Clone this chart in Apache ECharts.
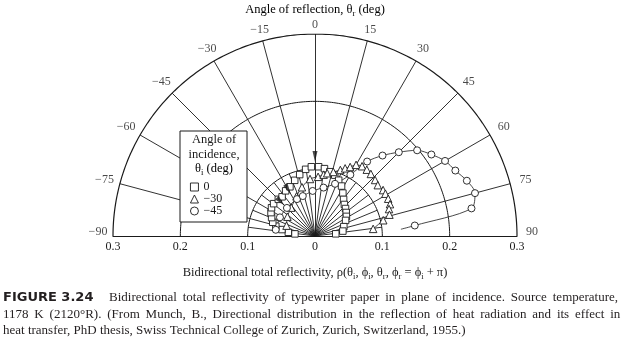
<!DOCTYPE html>
<html><head><meta charset="utf-8">
<script src="https://cdn.jsdelivr.net/npm/echarts@6/dist/echarts.min.js"></script>
<style>html,body{margin:0;padding:0;background:#fff}#c{width:624px;height:347px}</style>
</head><body><div id="c"></div>
<script>
// ---- data ----
const gridRadii = [0.1, 0.2, 0.3];
const angleTicks = [-90, -75, -60, -45, -30, -15, 0, 15, 30, 45, 60, 75, 90];
const angleTickLabels = ['\u221290','\u221275','\u221260','\u221245','\u221230','\u221215','0','15','30','45','60','75','90'];
const innerSpokeAngles = [-82.5,-67.5,-52.5,-37.5,-22.5,-7.5,7.5,22.5,37.5,52.5,67.5,82.5];
const seriesNames = ['0', '\u221230', '\u221245'];
const incidentAngles = [0, -30, -45];
const arrowRadius = [0.118, 0.080, 0.072];

const sqTheta = [-84,-82,-79,-76,-72,-67,-62,-57,-52,-45,-40,-33,-27,-20,-14,-8,-3,3,8,13,18,23,28,33,38,43,48,53,58,63,72,80,84];
const sqRho   = [0.030,0.040,0.050,0.060,0.066,0.070,0.074,0.077,0.078,0.077,0.076,0.080,0.082,0.088,0.094,0.100,0.103,0.103,0.101,0.098,0.095,0.090,0.084,0.076,0.069,0.064,0.061,0.058,0.055,0.051,0.045,0.042,0.031];

const triTheta = [-70,-55,-40,-25,-15,-5,3,8,11,16,21,24,27,30,34,38,42,47,51,56,59,63,67,70,74,77,83];
const triRho   = [0.045,0.050,0.055,0.065,0.075,0.085,0.088,0.092,0.095,0.099,0.105,0.110,0.115,0.122,0.125,0.125,0.124,0.122,0.120,0.122,0.122,0.122,0.121,0.117,0.115,0.104,0.087];

const cirTheta = [-81,-62,-45,-26,-17,-3,10,21,30,35,40,45,50,55,60,65,70,75,80,84];
const cirRho   = [0.059,0.059,0.059,0.061,0.062,0.067,0.073,0.083,0.105,0.135,0.156,0.176,0.198,0.211,0.223,0.230,0.240,0.246,0.236,0.149];
const cirCurveEnd = [85.5, 0.128];

// ---- helpers ----
const D = Math.PI / 180;
const xy = (t, r) => [r * Math.sin(t * D), r * Math.cos(t * D)];
const FONT = '"Liberation Serif", "DejaVu Serif", serif';
const INK = '#1a1a1a';
const TS = '\u2009'; // thin space used to justify caption lines

const series = [];
gridRadii.forEach((r, i) => {
  const pts = [];
  for (let a = -90; a <= 90; a += 1) pts.push(xy(a, r));
  series.push({type: 'line', data: pts, showSymbol: false, silent: true, z: 1,
    lineStyle: {color: INK, width: i === gridRadii.length - 1 ? 1.2 : 1}});
});
const spokes = [];
angleTicks.filter(a => Math.abs(a) < 90).forEach(a => spokes.push({coords: [xy(a, 0), xy(a, gridRadii[2])]}));
innerSpokeAngles.forEach(a => spokes.push({coords: [xy(a, 0), xy(a, gridRadii[0])]}));
series.push({type: 'lines', coordinateSystem: 'cartesian2d', data: spokes, silent: true, z: 1,
  lineStyle: {color: INK, width: 0.9, opacity: 1}});
series.push({type: 'scatter', symbolSize: 0, silent: true, z: 5,
  data: angleTicks.map((a, i) => {
    const s = Math.sin(a * D), c = Math.cos(a * D);
    const d = 4 + 11 * Math.abs(s) + 5 * Math.abs(c);
    return {value: xy(a, gridRadii[2]), label: {show: true, formatter: angleTickLabels[i],
      position: [s * d, -c * d - (Math.abs(a) === 90 ? 4 : 0)], align: 'center', verticalAlign: 'middle',
      fontFamily: FONT, fontSize: 12, color: INK}};
  })});
series.push({type: 'scatter', silent: true, z: 4,
  symbol: 'path://M0,0L10,0L5,22Z', symbolKeepAspect: false,
  data: incidentAngles.map((a, i) => ({value: xy(a, arrowRadius[i]), symbolRotate: -a})),
  symbolSize: [5, 11], itemStyle: {color: INK}});
const sets = [
  {name: seriesNames[0], sym: 'rect', size: 6.5, th: sqTheta, rh: sqRho, tail: null},
  {name: seriesNames[1], sym: 'triangle', size: 7.5, th: triTheta, rh: triRho, tail: null},
  {name: seriesNames[2], sym: 'circle', size: 7, th: cirTheta, rh: cirRho, tail: cirCurveEnd},
];
sets.forEach(s => {
  const pts = s.th.map((t, i) => xy(t, s.rh[i]));
  const curve = s.tail ? pts.concat([xy(s.tail[0], s.tail[1])]) : pts;
  series.push({type: 'line', data: curve, showSymbol: false, smooth: 0.3, silent: true, z: 2,
    lineStyle: {color: INK, width: 0.8}});
  series.push({type: 'scatter', name: s.name, data: pts, symbol: s.sym, symbolSize: s.size, z: 3,
    itemStyle: {color: '#fff', borderColor: INK, borderWidth: 0.9, opacity: 1}});
});

const sub = {fontSize: 8.5, fontFamily: FONT, color: INK, padding: [7, 0, 0, 0], lineHeight: 8};
const base = {fontSize: 12.5, fontFamily: FONT, color: INK, lineHeight: 14};
const justify = t => t.split(' ').join(' ' + TS);

const option = {
  animation: false,
  grid: {left: 113, top: 34, width: 404, height: 202},
  xAxis: {type: 'value', min: -0.3, max: 0.3, interval: 0.1,
    axisLine: {lineStyle: {color: INK, width: 1.2}}, axisTick: {show: false}, splitLine: {show: false},
    axisLabel: {margin: 5, fontFamily: FONT, fontSize: 12, color: INK,
      formatter: v => Math.abs(v) < 1e-9 ? '0' : Math.abs(v).toFixed(1)},
    name: '{a|Bidirectional total reflectivity, \u03c1(\u03b8}{s|i}{a|, \u03d5}{s|i}{a|, \u03b8}{s|r}{a|, \u03d5}{s|r}{a| = \u03d5}{s|i}{a| + \u03c0)}',
    nameLocation: 'middle', nameGap: 30,
    nameTextStyle: {rich: {a: base, s: sub}}},
  yAxis: {type: 'value', min: 0, max: 0.3, show: false},
  legend: {orient: 'vertical', left: 185, top: 176, itemWidth: 8, itemHeight: 8, itemGap: 0,
    data: seriesNames, itemStyle: {borderWidth: 0.9, borderColor: INK, color: '#fff'},
    textStyle: {fontFamily: FONT, fontSize: 12, color: INK}},
  graphic: [
    {type: 'rect', z: 3, shape: {x: 180, y: 131, width: 67, height: 91}, style: {fill: '#fff', stroke: INK, lineWidth: 1}},
    {type: 'text', z: 5, style: {x: 214, y: 140, text: 'Angle of', font: '12.5px ' + FONT, fill: INK, align: 'center', verticalAlign: 'middle'}},
    {type: 'text', z: 5, style: {x: 214, y: 155, text: 'incidence,', font: '12.5px ' + FONT, fill: INK, align: 'center', verticalAlign: 'middle'}},
    {type: 'text', z: 5, style: {x: 214, y: 169, text: '{a|\u03b8}{s|i}{a| (deg)}', rich: {a: base, s: sub}, align: 'center', verticalAlign: 'middle'}},
    {type: 'text', z: 5, style: {x: 315, y: 10, text: '{a|Angle of reflection, \u03b8}{s|r}{a| (deg)}', rich: {a: base, s: sub}, align: 'center', verticalAlign: 'middle'}},
    {type: 'text', z: 5, style: {x: 3, y: 298, text: 'FIGURE 3.24', font: 'bold 13px "DejaVu Sans", sans-serif', fill: '#231f20', verticalAlign: 'middle'}},
    {type: 'text', z: 5, style: {x: 109, y: 298, text: justify('Bidirectional total reflectivity of typewriter paper in plane of incidence. Source temperature,'), font: '13px ' + FONT, fill: '#231f20', verticalAlign: 'middle'}},
    {type: 'text', z: 5, style: {x: 3, y: 314.5, text: justify('1178 K (2120\u00b0R). (From Munch, B., Directional distribution in the reflection of heat radiation and its effect in'), font: '13px ' + FONT, fill: '#231f20', verticalAlign: 'middle'}},
    {type: 'text', z: 5, style: {x: 3, y: 331, text: 'heat transfer, PhD thesis, Swiss Technical College of Zurich, Zurich, Switzerland, 1955.)', font: '13px ' + FONT, fill: '#231f20', verticalAlign: 'middle'}}
  ],
  series: series
};
const chart = echarts.init(document.getElementById('c'), null, {renderer: 'canvas'});
chart.setOption(option);
</script></body></html>
